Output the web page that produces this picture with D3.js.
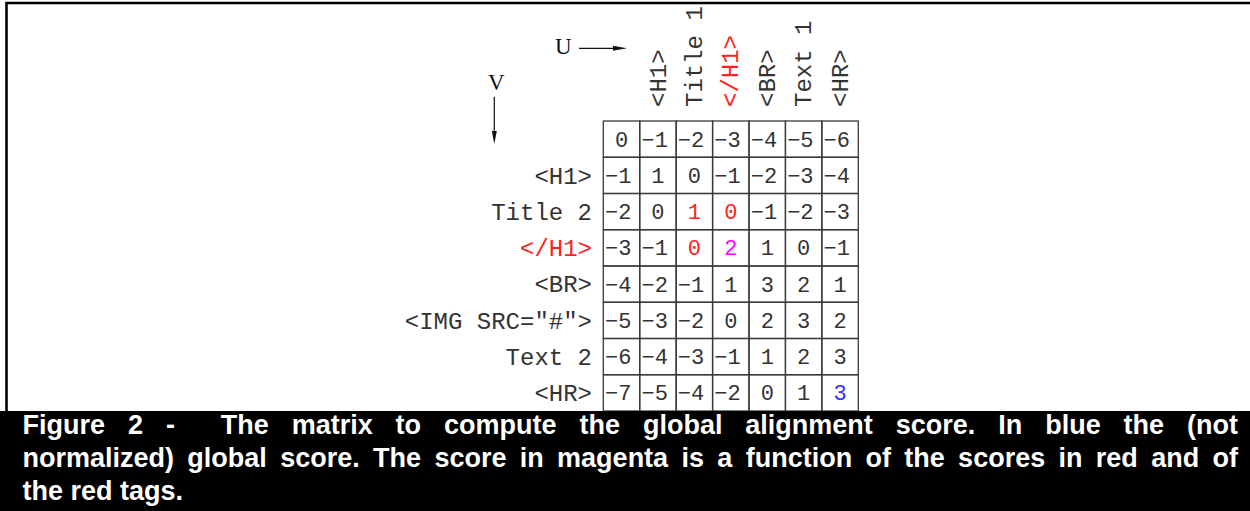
<!DOCTYPE html>
<html>
<head>
<meta charset="utf-8">
<script src="https://cdn.jsdelivr.net/npm/d3@7"></script>
<style>
  html, body { margin: 0; padding: 0; background: #fff; }
  svg { display: block; }
</style>
</head>
<body>
<svg id="chart" width="1250" height="511"></svg>
<script>
// ---- data ----
const colLabels = ["<H1>", "Title 1", "</H1>", "<BR>", "Text 1", "<HR>"];
const rowLabels = ["<H1>", "Title 2", "</H1>", "<BR>", "<IMG SRC=\"#\">", "Text 2", "<HR>"];
const redColLabels = ["</H1>"];
const redRowLabels = ["</H1>"];
const scores = [
  [ 0, -1, -2, -3, -4, -5, -6],
  [-1,  1,  0, -1, -2, -3, -4],
  [-2,  0,  1,  0, -1, -2, -3],
  [-3, -1,  0,  2,  1,  0, -1],
  [-4, -2, -1,  1,  3,  2,  1],
  [-5, -3, -2,  0,  2,  3,  2],
  [-6, -4, -3, -1,  1,  2,  3],
  [-7, -5, -4, -2,  0,  1,  3]
];
const redCells = [[2, 2], [2, 3], [3, 2]];
const magentaCells = [[3, 3]];
const blueCells = [[7, 6]];
const captionLines = [
  "Figure 2 -  The matrix to compute the global alignment score. In blue the (not",
  "normalized) global score. The score in magenta is a function of the scores in red and of",
  "the red tags."
];

// ---- drawing ----
const svg = d3.select("#chart");
const monoFont = "'Liberation Mono', 'DejaVu Sans Mono', monospace";
const nRows = scores.length, nCols = scores[0].length;

const x = d3.scaleBand().domain(d3.range(nCols)).range([603.3, 858.3]);
const y = d3.scaleBand().domain(d3.range(nRows)).range([121, 411]);
const fmt = d3.format("d");

function cellColor(r, c) {
  const has = arr => arr.some(([rr, cc]) => rr === r && cc === c);
  if (has(redCells)) return "#ff2020";
  if (has(magentaCells)) return "#ff00ff";
  if (has(blueCells)) return "#3333ff";
  return "#333";
}

const cells = [];
scores.forEach((row, r) => row.forEach((v, c) => cells.push({ r, c, v })));

const g = svg.append("g");
g.selectAll("rect.cell").data(cells).join("rect")
  .attr("class", "cell")
  .attr("x", d => x(d.c)).attr("y", d => y(d.r))
  .attr("width", x.bandwidth()).attr("height", y.bandwidth())
  .attr("fill", "none").attr("stroke", "#3a3a3a").attr("stroke-width", 1.3);

g.selectAll("text.val").data(cells).join("text")
  .attr("class", "val")
  .attr("x", d => x(d.c) + x.bandwidth() / 2)
  .attr("y", d => y(d.r) + y.bandwidth() / 2)
  .attr("dx", d => d.v < 0 ? "-0.15em" : 0)
  .attr("dy", "0.34em")
  .attr("text-anchor", "middle")
  .attr("font-family", monoFont).attr("font-size", 22)
  .attr("fill", d => cellColor(d.r, d.c))
  .text(d => fmt(d.v));

// column labels (rotated)
svg.append("g").selectAll("text").data(colLabels).join("text")
  .attr("transform", (d, i) => `translate(${x(i + 1) + x.bandwidth() / 2},107) rotate(-90)`)
  .attr("dy", "0.32em")
  .attr("font-family", monoFont).attr("font-size", 24)
  .attr("fill", d => redColLabels.includes(d) ? "#ff2020" : "#333")
  .style("white-space", "pre")
  .text(d => d);

// row labels
svg.append("g").selectAll("text").data(rowLabels).join("text")
  .attr("x", 592)
  .attr("y", (d, i) => y(i + 1) + y.bandwidth() / 2)
  .attr("dy", "0.34em")
  .attr("text-anchor", "end")
  .attr("font-family", monoFont).attr("font-size", 24)
  .attr("fill", d => redRowLabels.includes(d) ? "#ff2020" : "#333")
  .style("white-space", "pre")
  .text(d => d);

// U and V arrows
const serif = "'Liberation Serif', 'DejaVu Serif', serif";
svg.append("text").attr("x", 555).attr("y", 53.5)
  .attr("font-family", serif).attr("font-size", 23)
  .attr("fill", "#111").text("U");
svg.append("line").attr("x1", 579).attr("y1", 48.3).attr("x2", 616).attr("y2", 48.3)
  .attr("stroke", "#111").attr("stroke-width", 1.2);
svg.append("path").attr("d", "M613,45.8 L627,48.3 L613,50.8 Z").attr("fill", "#111");

svg.append("text").attr("x", 488).attr("y", 90)
  .attr("font-family", serif).attr("font-size", 23)
  .attr("fill", "#111").text("V");
svg.append("line").attr("x1", 494.3).attr("y1", 96.7).attr("x2", 494.3).attr("y2", 134)
  .attr("stroke", "#111").attr("stroke-width", 1.2);
svg.append("path").attr("d", "M491.8,131 L494.3,144 L496.8,131 Z").attr("fill", "#111");

// frame
svg.append("path").attr("d", "M6.5,411 L6.5,3 L1252,3")
  .attr("fill", "none").attr("stroke", "#000").attr("stroke-width", 2.6);

// caption
svg.append("rect").attr("x", 0).attr("y", 411).attr("width", 1250).attr("height", 100).attr("fill", "#000");
const capLeft = 22.5, capRight = 1238;
const capY = d3.scaleLinear().domain([0, 2]).range([434, 500]);
const cap = svg.append("g").selectAll("text").data(captionLines).join("text")
  .attr("x", capLeft)
  .attr("y", (d, i) => capY(i))
  .attr("font-family", "'Liberation Sans', Arial, sans-serif")
  .attr("font-weight", "bold").attr("font-size", 27)
  .attr("fill", "#fff")
  .style("white-space", "pre")
  .text(d => d);
cap.each(function (d, i) {
  if (i === captionLines.length - 1) return;
  const natural = this.getComputedTextLength();
  const spaces = (d.match(/ /g) || []).length;
  const ws = (capRight - capLeft - natural) / spaces;
  d3.select(this).style("word-spacing", ws + "px");
});
</script>
</body>
</html>
